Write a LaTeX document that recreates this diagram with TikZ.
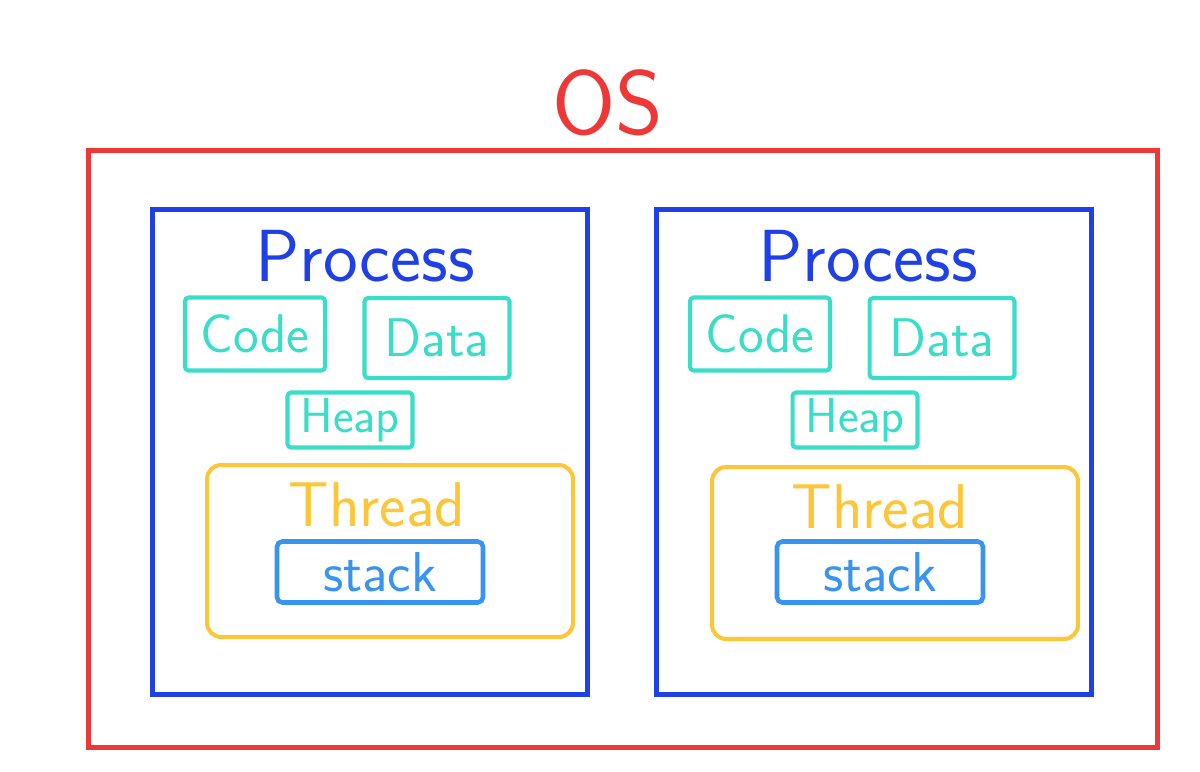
\documentclass[tikz,border=0pt]{standalone}
\usepackage{tikz}
\usetikzlibrary{positioning}

\definecolor{osred}{RGB}{238,56,56}
\definecolor{procblue}{RGB}{30,64,230}
\definecolor{segcyan}{RGB}{56,222,200}
\definecolor{thryellow}{RGB}{252,198,56}
\definecolor{stkblue}{RGB}{56,148,238}

\tikzset{
    big/.style={font=\sffamily\fontsize{#1}{#1}\selectfont},
    osbox/.style={draw=osred, line width=2.8pt, minimum width=21.4cm, minimum height=11.96cm},
    procbox/.style={draw=procblue, line width=2.8pt, minimum width=8.7cm, minimum height=9.7cm},
    segbox/.style={draw=segcyan, text=segcyan, line width=2.3pt, rounded corners=2pt, inner sep=0pt},
    thrbox/.style={draw=thryellow, line width=2.3pt, rounded corners=8pt, minimum width=7.32cm, minimum height=3.44cm},
    stkbox/.style={draw=stkblue, text=stkblue, line width=2.6pt, rounded corners=3pt, minimum width=4.12cm, minimum height=1.22cm, big=32}
}

\begin{document}
\begin{tikzpicture}[x=0.02cm, y=-0.02cm]
    \useasboundingbox (0,0) rectangle (1200,771);

    % the OS around everything
    \node [big=52, text=osred] (ostitle) at (608,103) {OS};
    \node [osbox] (os) at (623,449) {};

    % left process
    \node [procbox] (procA) at (370,452) {};
    \node [big=42, text=procblue] (procAtitle) at (365,256) {Process};
    \node [segbox, minimum width=2.8cm, minimum height=1.46cm, big=31] (codeA) at (255,334) {Code};
    \node [segbox, minimum width=2.9cm, minimum height=1.6cm, big=31] (dataA) at (437,338) {Data};
    \node [segbox, minimum width=2.5cm, minimum height=1.1cm, big=28] (heapA) at (350,420) {Heap};
    \node [thrbox] (thrA) at (390,551) {};
    \node [big=36, text=thryellow] (thrAtitle) at (377,505) {Thread};
    \node [stkbox] (stkA) at (380,572) {stack};

    % right process
    \node [procbox] (procB) at (874,452) {};
    \node [big=42, text=procblue] (procBtitle) at (868,256) {Process};
    \node [segbox, minimum width=2.8cm, minimum height=1.46cm, big=31] (codeB) at (760,334) {Code};
    \node [segbox, minimum width=2.9cm, minimum height=1.6cm, big=31] (dataB) at (942,338) {Data};
    \node [segbox, minimum width=2.5cm, minimum height=1.1cm, big=28] (heapB) at (855,420) {Heap};
    \node [thrbox] (thrB) at (895,553) {};
    \node [big=36, text=thryellow] (thrBtitle) at (880,507) {Thread};
    \node [stkbox] (stkB) at (880,572) {stack};
\end{tikzpicture}
\end{document}
